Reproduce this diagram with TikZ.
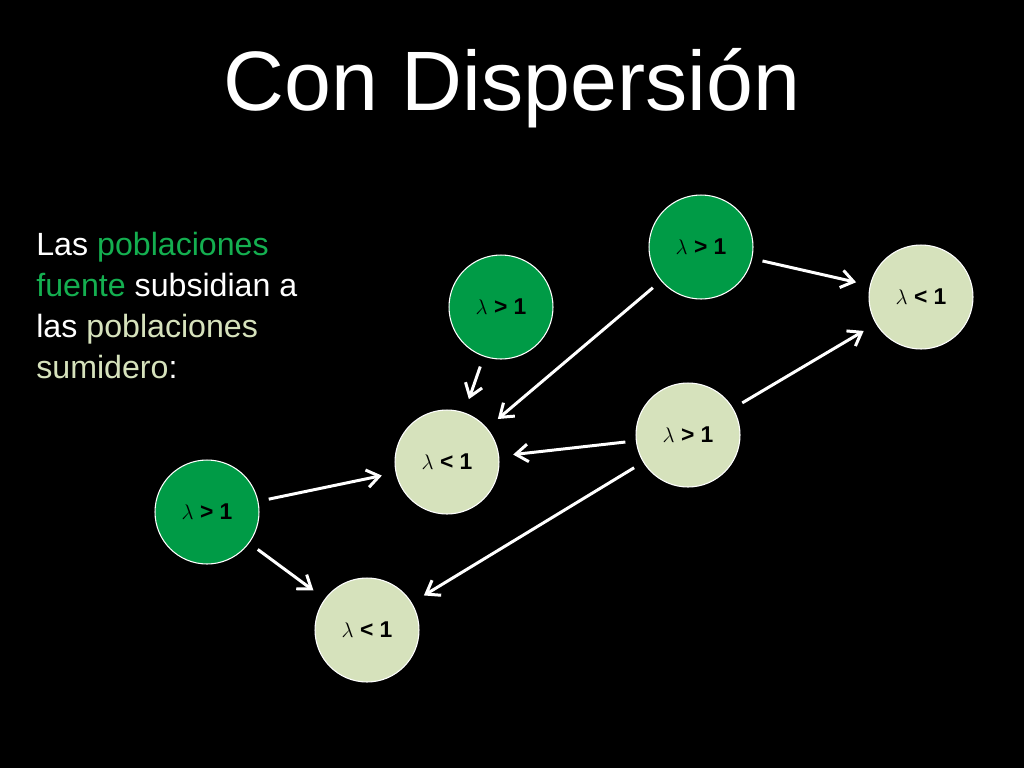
\documentclass[tikz,border=0pt]{standalone}
\usepackage{fontspec}
\setmainfont{Liberation Sans}
\usetikzlibrary{arrows.meta}
\definecolor{fuente}{RGB}{0,155,70}
\definecolor{sumidero}{RGB}{214,226,188}
\definecolor{fuentetxt}{RGB}{20,175,80}
\begin{document}
\begin{tikzpicture}
        [x=0.02cm,y=-0.02cm,
        pop/.style={draw=white,line width=0.6pt,shape=circle,inner sep=0,minimum size=2.08cm,font=\bfseries\fontsize{13}{15}\selectfont,text=black},
        src/.style={pop,fill=fuente},
        snk/.style={pop,fill=sumidero},
        flow/.style={draw=white,line width=1.7pt,-{Straight Barb[length=7pt,width=10pt]},shorten <=6pt,shorten >=8pt}]

        \fill[black] (0,0) rectangle (1024,768);

        \node[text=white,font=\fontsize{48}{54}\selectfont] (title) at (512,88) {Con Dispersión};
        \node[text=white,align=left,anchor=north west,inner sep=0,font=\fontsize{18.3}{23.3}\selectfont] (txt) at (36,232)
          {Las \textcolor{fuentetxt}{poblaciones}\\\textcolor{fuentetxt}{fuente} subsidian a\\las \textcolor{sumidero}{poblaciones}\\\textcolor{sumidero}{sumidero}:};

        \node[src] (a) at (701,247) {$\lambda$ > 1};
        \node[snk] (b) at (921,297) {$\lambda$ < 1};
        \node[src] (c) at (501,307) {$\lambda$ > 1};
        \node[snk] (d) at (688,435) {$\lambda$ > 1};
        \node[snk] (e) at (447,462) {$\lambda$ < 1};
        \node[src] (f) at (207,512) {$\lambda$ > 1};
        \node[snk] (g) at (367,630) {$\lambda$ < 1};

        \draw[flow] (a) -- (b);
        \draw[flow] (a) -- (e);
        \draw[flow] (c) -- (e);
        \draw[flow] (d) -- (b);
        \draw[flow] (d) -- (e);
        \draw[flow] (d) -- (g);
        \draw[flow] (f) -- (e);
        \draw[flow] (f) -- (g);

      \end{tikzpicture}
\end{document}
